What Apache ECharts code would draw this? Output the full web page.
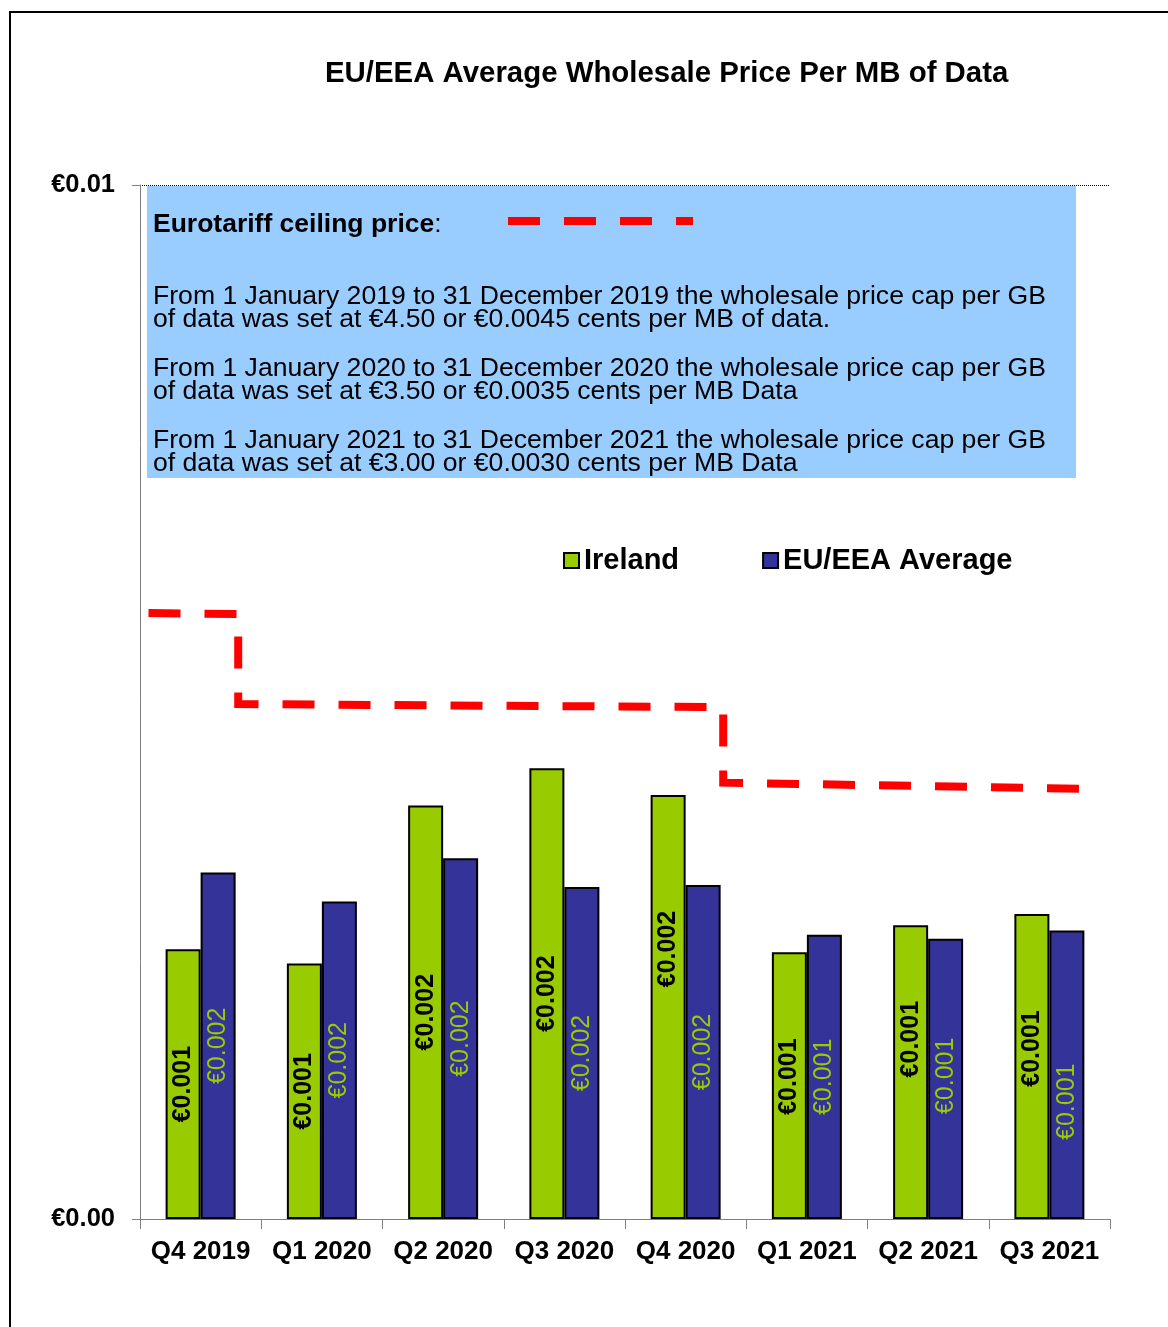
<!DOCTYPE html>
<html>
<head>
<meta charset="utf-8">
<script src="https://cdn.jsdelivr.net/npm/echarts@6/dist/echarts.min.js"></script>
<style>
html,body{margin:0;padding:0;background:#fff;}
#chart{width:1168px;height:1327px;}
</style>
</head>
<body>
<div id="chart"></div>
<script>
// ---- data ----
const categories = ['Q4 2019','Q1 2020','Q2 2020','Q3 2020','Q4 2020','Q1 2021','Q2 2021','Q3 2021'];
const irelandValues = [0.00261, 0.00247, 0.00400, 0.00436, 0.00410, 0.00258, 0.00284, 0.00295];
const euValues      = [0.00335, 0.00307, 0.00349, 0.00321, 0.00323, 0.00275, 0.00271, 0.00279];
const irelandLabels = ['€0.001','€0.001','€0.002','€0.002','€0.002','€0.001','€0.001','€0.001'];
const euLabels      = ['€0.002','€0.002','€0.002','€0.002','€0.002','€0.001','€0.001','€0.001'];
// Eurotariff ceiling step line (x in category-index units, y in €/MB as drawn)
const capX = [-0.43, 0.31, 0.31, 4.31, 4.31, 7.32];
const capY = [0.00586, 0.00585, 0.00498, 0.00495, 0.00422, 0.00416];
const yTickLabels = {0: '€0.00', 0.01: '€0.01'};
const titleText = 'EU/EEA Average Wholesale Price Per MB of Data';
const noteHeading = 'Eurotariff ceiling price';
const noteLines = [
  'From 1 January 2019 to 31 December 2019 the wholesale price cap per GB',
  'of data was set at €4.50 or €0.0045 cents per MB of data.',
  'From 1 January 2020 to 31 December 2020 the wholesale price cap per GB',
  'of data was set at €3.50 or €0.0035 cents per MB Data',
  'From 1 January 2021 to 31 December 2021 the wholesale price cap per GB',
  'of data was set at €3.00 or €0.0030 cents per MB Data'
];

// ---- styles ----
const FONT = '"Liberation Sans", Arial, sans-serif';
const GREEN = '#99CC00', BLUE = '#333399', RED = '#FF0000';
// vertical screen shift of each bar label (negative = up)
const irelandLabelShift = [0, 0, 0, 0, -58, -9, -33, -18];
const euLabelShift      = [0, 0, 0, 0, 0, 0, -3, 27];
const noteLineY = [297, 320, 369, 392, 441, 464];

const chart = echarts.init(document.getElementById('chart'), null, {renderer: 'canvas'});

function barData(values, labels, shift, color, weight) {
  return values.map((v, i) => ({
    value: v,
    label: {
      formatter: labels[i],
      // label is rotated 90°, so local x points up on screen
      offset: [-shift[i], 0],
      color: color,
      fontWeight: weight
    }
  }));
}

const graphics = [
  {type: 'rect', z: -10, shape: {x: 10, y: 12, width: 1200, height: 1400},
   style: {fill: 'none', stroke: '#000', lineWidth: 2}},
  {type: 'rect', z: -5, shape: {x: 147, y: 186, width: 929, height: 292},
   style: {fill: '#99CCFF'}},
  {type: 'text', z: 5, x: 153, y: 225,
   style: {text: '{b|' + noteHeading + '}:', fill: '#000', font: '26.5px ' + FONT,
           verticalAlign: 'middle', align: 'left',
           rich: {b: {fontWeight: 'bold', fontSize: 26.5, fontFamily: FONT, fill: '#000'}}}},
  {type: 'line', z: 5, shape: {x1: 508, y1: 221, x2: 693, y2: 221},
   style: {stroke: RED, lineWidth: 8, lineDash: [32, 24]}}
];
noteLines.forEach((t, i) => {
  graphics.push({type: 'text', z: 5, x: 153, y: noteLineY[i],
    style: {text: t, fill: '#000', font: '26.6px ' + FONT, verticalAlign: 'middle', align: 'left'}});
});

const option = {
  animation: false,
  backgroundColor: '#fff',
  title: {
    text: titleText,
    left: 325, top: 59, padding: 0,
    textStyle: {fontFamily: FONT, fontWeight: 'bold', fontSize: 29.4, color: '#000'}
  },
  legend: {
    data: ['Ireland', 'EU/EEA Average'],
    left: 563, top: 546, padding: 0,
    icon: 'rect', itemWidth: 15, itemHeight: 15, itemGap: 83,
    textStyle: {fontFamily: FONT, fontWeight: 'bold', fontSize: 29, color: '#000'}
  },
  grid: {left: 140, right: 58, top: 185, bottom: 108, containLabel: false},
  xAxis: [
    {
      type: 'category', data: categories, boundaryGap: true,
      axisLine: {lineStyle: {color: '#808080', width: 1}},
      axisTick: {show: true, length: 10, alignWithLabel: false, lineStyle: {color: '#808080'}},
      axisLabel: {fontFamily: FONT, fontWeight: 'bold', fontSize: 26, color: '#000', margin: 20, interval: 0}
    },
    {type: 'value', min: -0.5, max: 7.5, show: false}
  ],
  yAxis: {
    type: 'value', min: 0, max: 0.01, interval: 0.01,
    axisLine: {show: true, onZero: false, lineStyle: {color: '#808080', width: 1}},
    axisTick: {show: true, length: 8, lineStyle: {color: '#808080'}},
    axisLabel: {
      fontFamily: FONT, fontWeight: 'bold', fontSize: 25.5, color: '#000', margin: 25,
      formatter: v => yTickLabels[v] !== undefined ? yTickLabels[v] : ''
    },
    splitLine: {show: true, lineStyle: {color: '#000', width: 1, type: [1, 1]}}
  },
  graphic: graphics,
  series: [
    {
      name: 'Ireland', type: 'bar', barWidth: 35, barGap: '0%',
      itemStyle: {color: GREEN, borderColor: '#000', borderWidth: 2},
      label: {show: true, position: 'inside', rotate: 90, align: 'center', verticalAlign: 'middle',
              fontFamily: FONT, fontSize: 25, fontWeight: 'bold', color: '#000'},
      data: barData(irelandValues, irelandLabels, irelandLabelShift, '#000', 'bold'),
      z: 3
    },
    {
      name: 'EU/EEA Average', type: 'bar', barWidth: 35, barGap: '0%',
      itemStyle: {color: BLUE, borderColor: '#000', borderWidth: 2},
      label: {show: true, position: 'inside', rotate: 90, align: 'center', verticalAlign: 'middle',
              fontFamily: FONT, fontSize: 25, fontWeight: 'normal', color: GREEN},
      data: barData(euValues, euLabels, euLabelShift, GREEN, 'normal'),
      z: 3
    },
    {
      name: 'Eurotariff ceiling', type: 'line', xAxisIndex: 1,
      data: capX.map((x, i) => [x, capY[i]]),
      symbol: 'none', silent: true,
      lineStyle: {color: RED, width: 8, type: [32, 24], join: 'miter', cap: 'butt'},
      z: 4
    }
  ]
};
chart.setOption(option);
</script>
</body>
</html>
